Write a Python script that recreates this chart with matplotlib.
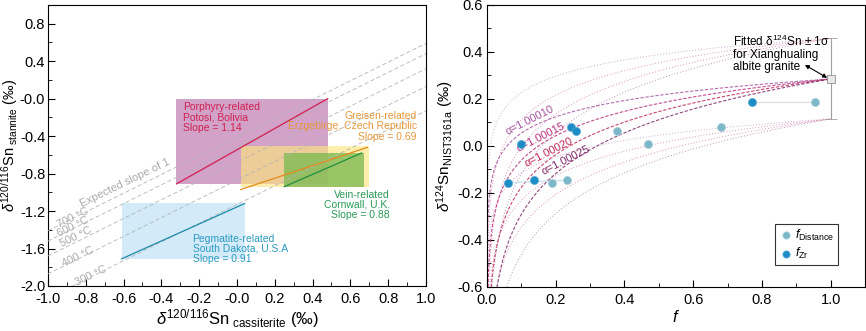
import numpy as np
import matplotlib
matplotlib.use('Agg')
import matplotlib.pyplot as plt
from matplotlib.patches import Rectangle
from matplotlib.ticker import FormatStrFormatter

# Шрифты
plt.rcParams['font.family'] = ['Liberation Sans', 'DejaVu Sans']
plt.rcParams['mathtext.fontset'] = 'custom'
plt.rcParams['mathtext.rm'] = 'Liberation Sans'
plt.rcParams['mathtext.it'] = 'Liberation Sans:italic'
plt.rcParams['font.size'] = 10.5
plt.rcParams['xtick.direction'] = 'in'
plt.rcParams['ytick.direction'] = 'in'

# ---------------- Данные левого графика ----------------
# прямоугольники: (x0, x1, y0, y1)
BOX_PORPHYRY = (-0.32, 0.48, -0.91, 0.0)
BOX_GREISEN = (0.02, 0.70, -0.94, -0.51)
BOX_VEIN = (0.25, 0.67, -0.94, -0.58)
BOX_PEGMATITE = (-0.61, 0.04, -1.71, -1.11)
# линии регрессии (x0, x1, y0, y1)
LINE_PORPHYRY = (-0.32, 0.48, -0.91, 0.0)
LINE_GREISEN = (0.02, 0.69, -0.97, -0.52)
LINE_VEIN = (0.25, 0.66, -0.94, -0.58)
LINE_PEGMATITE = (-0.61, 0.04, -1.71, -1.12)
# изотермы с наклоном 1
TEMPS = ['700 °C', '600 °C', '500 °C', '400 °C', '300 °C']
INTERCEPTS = [-0.41, -0.52, -0.68, -0.87, -1.13]
TEMP_LABEL_XY = [(-0.87, -1.27), (-0.865, -1.37), (-0.85, -1.48), (-0.84, -1.69), (-0.77, -1.89)]

# ---------------- Данные правого графика ----------------
F_ZR = [0.100, 0.244, 0.259, 0.771, 0.062, 0.137]
D_ZR = [0.010, 0.082, 0.064, 0.189, -0.156, -0.146]
F_DIST = [0.379, 0.469, 0.682, 0.956, 0.190, 0.232]
D_DIST = [0.064, 0.009, 0.082, 0.189, -0.156, -0.146]
ALPHAS = [1.00010, 1.00015, 1.00020, 1.00025]
ALPHA_LABELS = ['α=1.00010', 'α=1.00015', 'α=1.00020', 'α=1.00025']
ALPHA_COLORS = ['#a554a0', '#b8307e', '#c0285a', '#7e2868']
ALPHA_LABEL_XY = [(0.125, 0.108), (0.157, 0.036), (0.180, -0.028), (0.228, -0.062)]
FIT_MEAN = 0.285
FIT_LOW = 0.115
FIT_HIGH = 0.458

fig = plt.figure(figsize=(8.66, 3.31), dpi=100)
ax1 = fig.add_axes([0.0554, 0.136, 0.4365, 0.849])
ax2 = fig.add_axes([0.5624, 0.133, 0.4364, 0.852])

# ================= Левый график =================
def box(ax, b, color, alpha=1.0, z=1):
    ax.add_patch(Rectangle((b[0], b[2]), b[1] - b[0], b[3] - b[2],
                           facecolor=color, edgecolor='none', alpha=alpha, zorder=z))

box(ax1, BOX_PORPHYRY, '#d2a2c8', 1.0, 1)
box(ax1, BOX_GREISEN, '#fde57e', 0.65, 2)
box(ax1, BOX_VEIN, '#78b850', 0.75, 3)
box(ax1, BOX_PEGMATITE, '#d3eaf9', 1.0, 1)

xx = np.array([-1.0, 1.0])
for c in INTERCEPTS:
    ax1.plot(xx, xx + c, color='#b4b4b4', lw=0.6, ls=(0, (5, 3)), zorder=4)

ax1.plot(LINE_PORPHYRY[:2], LINE_PORPHYRY[2:], color='#d0204e', lw=0.9, zorder=5)
ax1.plot(LINE_GREISEN[:2], LINE_GREISEN[2:], color='#e48a1e', lw=0.9, zorder=5)
ax1.plot(LINE_VEIN[:2], LINE_VEIN[2:], color='#1f9040', lw=0.9, zorder=5)
ax1.plot(LINE_PEGMATITE[:2], LINE_PEGMATITE[2:], color='#1c8aa6', lw=0.9, zorder=5)

rot = 26
for t, (tx, ty) in zip(TEMPS, TEMP_LABEL_XY):
    ax1.text(tx, ty, t, color='#ababab', fontsize=8, rotation=rot,
             ha='center', va='center', zorder=6)
ax1.text(-0.59, -0.90, 'Expected slope of 1', color='#ababab', fontsize=8,
         rotation=rot, ha='center', va='center', zorder=6)

ax1.text(-0.285, -0.04, 'Porphyry-related\nPotosi, Bolivia\nSlope = 1.14',
         color='#d0204e', fontsize=7.5, va='top', ha='left', linespacing=1.05, zorder=6)
ax1.text(0.952, -0.13, 'Greisen-related\nErzgebirge, Czech Republic\nSlope = 0.69',
         color='#e5963a', fontsize=7.5, va='top', ha='right', linespacing=1.05, zorder=6)
ax1.text(0.81, -0.97, 'Vein-related\nCornwall, U.K.\nSlope = 0.88',
         color='#2a9a58', fontsize=7.5, va='top', ha='right', linespacing=1.05, zorder=6)
ax1.text(-0.235, -1.44, 'Pegmatite-related\nSouth Dakota, U.S.A\nSlope = 0.91',
         color='#2a9ac2', fontsize=7.5, va='top', ha='left', linespacing=1.05, zorder=6)

ax1.set_xlim(-1.0, 1.0)
ax1.set_ylim(-2.0, 1.0)
ax1.set_xticks(np.round(np.arange(-1.0, 1.01, 0.2), 2))
ax1.set_xticks(np.round(np.arange(-0.9, 1.0, 0.2), 2), minor=True)
ax1.set_yticks(np.round(np.arange(-2.0, 0.81, 0.4), 2))
ax1.set_yticks(np.round(np.arange(-1.8, 1.0, 0.4), 2), minor=True)
ax1.xaxis.set_major_formatter(FormatStrFormatter('%.1f'))
ax1.yaxis.set_major_formatter(FormatStrFormatter('%.1f'))
ax1.tick_params(which='major', length=5)
ax1.tick_params(axis='x', pad=4)
ax1.tick_params(axis='y', pad=2)
ax1.tick_params(which='minor', length=3)
ax1.set_xlabel(r'$\delta^{120/116}$Sn$_{\ \rm cassiterite}$ (‰)', fontsize=12, labelpad=1)
ax1.set_ylabel(r'$\delta^{120/116}$Sn$_{\ \rm stannite}$ (‰)', fontsize=10.5, labelpad=0)

# ================= Правый график =================
f = np.linspace(0.0005, 1.0, 600)
for a, col in zip(ALPHAS, ALPHA_COLORS):
    for d0, style, lw, al in [(FIT_HIGH, (0, (1, 2)), 0.7, 0.5),
                              (FIT_LOW, (0, (1, 2)), 0.7, 0.5),
                              (FIT_MEAN, (0, (3, 1.5)), 0.8, 0.85)]:
        d = (d0 + 1000) * f ** (a - 1) - 1000
        ax2.plot(f, d, color=col, lw=lw, ls=style, alpha=al, zorder=2)

for lab, col, (lx, ly) in zip(ALPHA_LABELS, ALPHA_COLORS, ALPHA_LABEL_XY):
    ax2.text(lx, ly, lab, color=col, fontsize=8, rotation=27,
             ha='center', va='center', zorder=5)

# соединительные линии
ax2.plot([F_ZR[3], F_DIST[3]], [D_ZR[3], D_DIST[3]], color='#dcdcdc', lw=0.8, zorder=3)
ax2.plot([F_ZR[4], F_DIST[5]], [D_ZR[4], D_DIST[5]], color='#bcdeee', lw=0.8, zorder=3)

ax2.scatter(F_DIST, D_DIST, s=34, color='#7db8c8', edgecolor='#aad0dc', lw=0.5,
            zorder=6, label=r'$f_{\rm Distance}$')
ax2.scatter(F_ZR, D_ZR, s=34, color='#1e8cc4', edgecolor='#5aaad6', lw=0.5,
            zorder=6, label=r'$f_{\rm Zr}$')

# погрешность подобранного значения
ax2.errorbar([1.0], [FIT_MEAN], yerr=[[FIT_MEAN - FIT_LOW], [FIT_HIGH - FIT_MEAN]],
             fmt='s', ms=6, mfc='#e8e8e8', mec='#909090', mew=0.6,
             ecolor='#a0a0a0', elinewidth=0.8, capsize=4, capthick=0.8, zorder=7)

ax2.text(0.715, 0.395, 'Fitted δ$^{124}$Sn ± 1σ\nfor Xianghualing\nalbite granite',
         fontsize=8.5, va='center', ha='left', linespacing=1.0, zorder=8)
ax2.annotate('', xy=(0.925, 0.345), xytext=(0.99, 0.29),
             arrowprops=dict(arrowstyle='<|-|>', color='black', lw=0.8,
                             mutation_scale=6, shrinkA=0, shrinkB=0), zorder=8)

leg = ax2.legend(loc='lower right', bbox_to_anchor=(0.945, 0.055), fontsize=9,
                 frameon=True, fancybox=False, edgecolor='black',
                 handletextpad=0.1, borderpad=0.3, labelspacing=0.3,
                 handlelength=1.2, markerscale=0.9)
leg.get_frame().set_linewidth(0.8)

ax2.set_xlim(0.0, 1.1)
ax2.set_ylim(-0.6, 0.6)
ax2.set_xticks(np.round(np.arange(0.0, 1.01, 0.2), 2))
ax2.set_xticks(np.round(np.arange(0.1, 1.1, 0.2), 2), minor=True)
ax2.set_yticks(np.round(np.arange(-0.6, 0.61, 0.2), 2))
ax2.set_yticks(np.round(np.arange(-0.5, 0.6, 0.2), 2), minor=True)
ax2.xaxis.set_major_formatter(FormatStrFormatter('%.1f'))
ax2.yaxis.set_major_formatter(FormatStrFormatter('%.1f'))
ax2.tick_params(which='major', length=5)
ax2.tick_params(axis='x', pad=4)
ax2.tick_params(axis='y', pad=3)
ax2.tick_params(which='minor', length=3)
ax2.set_xlabel(r'$f$', fontsize=12, labelpad=2)
ax2.set_ylabel(r'$\delta^{124}$Sn$_{\rm NIST3161a}$ (‰)', fontsize=11, labelpad=1)

fig.savefig('out.png', dpi=100)
